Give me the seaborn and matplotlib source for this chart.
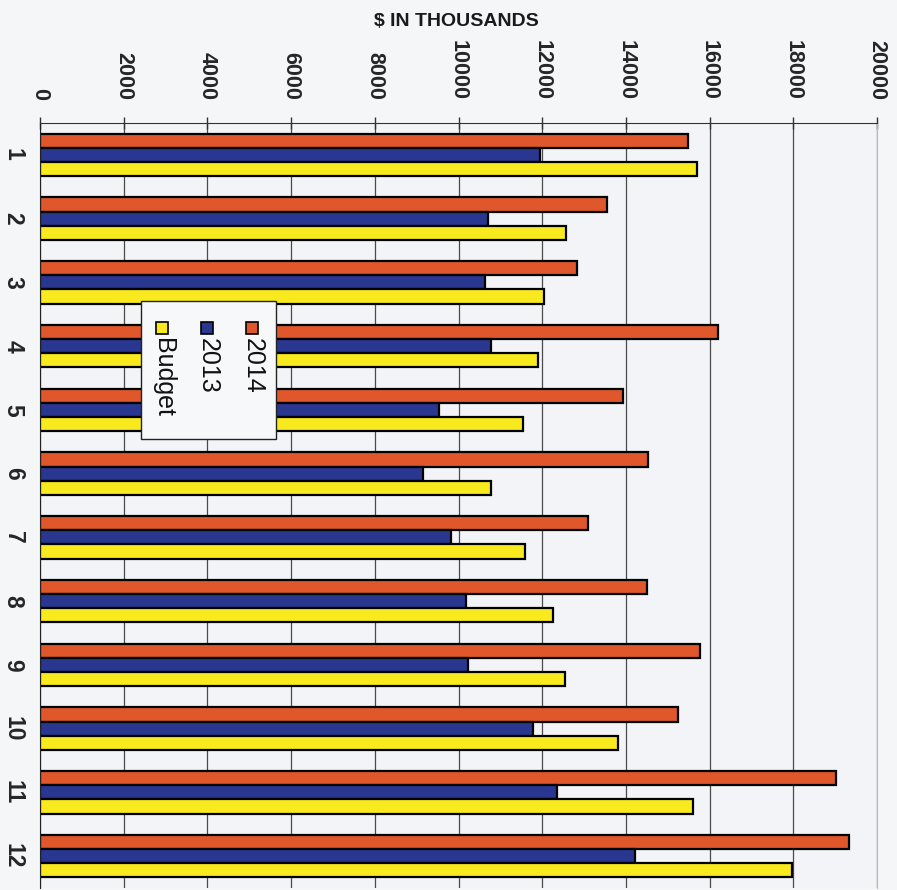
import numpy as np
import pandas as pd
import matplotlib
matplotlib.use('Agg')
import matplotlib.pyplot as plt
from matplotlib.patches import Rectangle
import seaborn as sns

# ---- data ($ in thousands) ----
months = [str(m) for m in range(1, 13)]
series_names = ['2014', '2013', 'Budget']
v2014 = [15480, 13560, 12820, 16190, 13930, 14540, 13100, 14510, 15770, 15240, 19020, 19340]
v2013 = [11950, 10710, 10630, 10780, 9530, 9150, 9830, 10190, 10230, 11790, 12360, 14210]
budget = [15690, 12580, 12040, 11910, 11550, 10780, 11600, 12250, 12540, 13800, 15610, 17980]
x_ticks = list(range(0, 20001, 2000))

colors = {'2014': '#e0572b', '2013': '#2a3790', 'Budget': '#f8ea1e'}

df = pd.DataFrame({'Month': months, '2014': v2014, '2013': v2013, 'Budget': budget})
long = df.melt(id_vars='Month', var_name='Series', value_name='Value')

sns.set_style('white')
plt.rcParams['font.family'] = ['Liberation Sans', 'DejaVu Sans']

W, H = 897, 890
fig = plt.figure(figsize=(W / 100, H / 100), dpi=100, facecolor='#f5f6f8')


def fx(x):
    return x / W


def fy(y):
    return 1 - y / H


# axes: left 40px, right 877px, top 123px, bottom 888px
ax = fig.add_axes([fx(40), fy(888), (877 - 40) / W, (888 - 123) / H])
ax.set_facecolor('#f3f4f7')

sns.barplot(data=long, y='Month', x='Value', hue='Series', order=months,
            hue_order=series_names, palette=colors, orient='h', width=0.67,
            saturation=1, edgecolor='black', linewidth=1.6, legend=False, ax=ax)

ax.set_xlim(0, 20000)
ax.set_ylim(11.5, -0.5)
ax.set_xlabel('')
ax.set_ylabel('')

# value axis on top, labels rotated
ax.set_xticks(x_ticks)
ax.set_xticklabels([str(t) for t in x_ticks])
ax.tick_params(axis='x', top=True, labeltop=True, bottom=False, labelbottom=False,
               direction='inout', length=9, width=1, color='#333333', pad=12)
for lbl in ax.get_xticklabels():
    lbl.set_rotation(-90)
    lbl.set_fontsize(15.5)
    lbl.set_fontweight('bold')
    lbl.set_va('bottom')
    lbl.set_ha('center')

# category axis: labels centred, tick marks between groups
ax.set_yticks(range(len(months)))
ax.set_yticks(np.arange(-0.5, 12, 1), minor=True)
ax.tick_params(axis='y', which='major', length=0, pad=11)
ax.tick_params(axis='y', which='minor', length=6, width=1, color='#333333', direction='out')
for lbl in ax.get_yticklabels():
    lbl.set_rotation(-90)
    lbl.set_fontsize(16.5)
    lbl.set_fontweight('bold')
    lbl.set_va('center')
    lbl.set_ha('right')

ax.grid(axis='x', color='#4a4a4a', linewidth=0.9)
ax.set_axisbelow(True)
ax.spines['top'].set_color('#333333')
ax.spines['left'].set_color('#222222')
ax.spines['right'].set_color('#bbbbbb')
ax.spines['bottom'].set_visible(False)

fig.text(fx(456), fy(26), '$ IN THOUSANDS', ha='center', va='baseline',
         fontsize=14, fontweight='bold', color='#1a1a1a')

# rotated legend box, drawn by hand (matplotlib legends cannot rotate)
fig.patches.append(Rectangle((fx(141), fy(439)), (276 - 141) / W, (439 - 301) / H,
                             transform=fig.transFigure, facecolor='#f7f8fa',
                             edgecolor='#222222', linewidth=1, zorder=5))
for name, xc in zip(series_names, [252, 207, 162]):
    fig.patches.append(Rectangle((fx(xc - 6), fy(334)), 12 / W, 12 / H,
                                 transform=fig.transFigure, facecolor=colors[name],
                                 edgecolor='black', linewidth=1.2, zorder=6))
    fig.text(fx(xc + 1), fy(338), name, rotation=-90, ha='center', va='top',
             fontsize=18, color='#111111', zorder=6)

fig.savefig('out.png', dpi=100, facecolor=fig.get_facecolor())
